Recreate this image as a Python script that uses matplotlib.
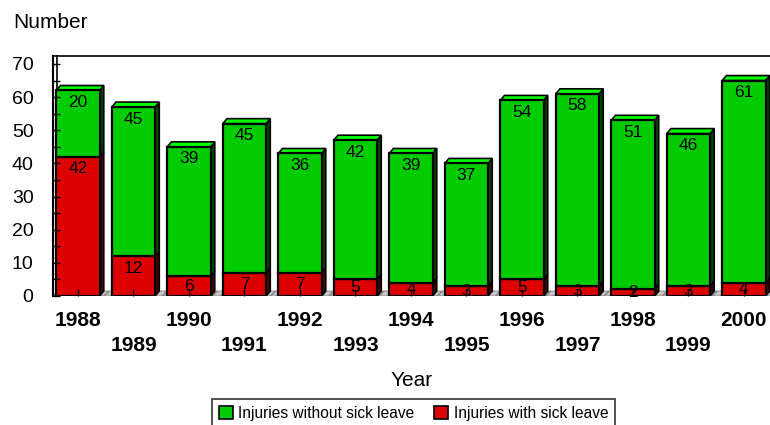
import matplotlib.pyplot as plt
from matplotlib.patches import Polygon, Rectangle

plt.rcParams['font.family'] = ['Liberation Sans', 'DejaVu Sans']

years = ['1988', '1989', '1990', '1991', '1992', '1993', '1994',
         '1995', '1996', '1997', '1998', '1999', '2000']
with_leave = [42, 12, 6, 7, 7, 5, 4, 3, 5, 3, 2, 3, 4]
without_leave = [20, 45, 39, 45, 36, 42, 39, 37, 54, 58, 51, 46, 61]

green = '#00cc00'
green_top = '#00ff00'
green_side = '#004400'
red = '#dd0000'
red_side = '#440000'

# 3D depth in data units
dx = 0.075
dy = 1.5
w = 0.78
ymax = 72.4
px = 240 / ymax  # pixels per unit on y

fig = plt.figure(figsize=(7.7, 4.25), dpi=100)
ax = fig.add_axes([53 / 770, 129 / 425, 717 / 770, 240 / 425])
ax.set_xlim(-0.45, 12.47)
ax.set_ylim(0, ymax)
ax.set_axisbelow(False)

# floor
floor = Polygon([(-0.45, 0), (12.6, 0), (12.6 + dx, dy), (-0.45 + dx, dy)],
                closed=True, facecolor='#c8c8c8', edgecolor='#808080',
                hatch='////', lw=0.6, zorder=0.5)
ax.add_patch(floor)
# back wall second line
ax.plot([-0.45 + dx, -0.45 + dx], [dy, ymax], color='black', lw=1.2,
        zorder=0.6, clip_on=False)


def segment(x, y0, h, face, side, top=None):
    l, r = x - w / 2, x + w / 2
    ax.add_patch(Polygon([(r, y0), (r + dx, y0 + dy), (r + dx, y0 + h + dy), (r, y0 + h)],
                         closed=True, facecolor=side, edgecolor='black', lw=1.2, zorder=2))
    ax.add_patch(Rectangle((l, y0), w, h, facecolor=face, edgecolor='black',
                           lw=1.6, zorder=2.2))
    if top is not None:
        t = y0 + h
        ax.add_patch(Polygon([(l, t), (l + dx, t + dy), (r + dx, t + dy), (r, t)],
                             closed=True, facecolor=top, edgecolor='black',
                             lw=1.2, zorder=2.1))


def label(x, y0, h, val):
    top = y0 + h
    yc = max(top - 12 / px, y0 + h / 2)
    ax.text(x, yc, str(val), ha='center', va='center', fontsize=12.5, zorder=3)


for i in range(len(years)):
    r = with_leave[i]
    g = without_leave[i]
    segment(i, 0, r, red, red_side)
    segment(i, r, g, green, green_side, top=green_top)
    label(i, 0, r, r)
    label(i, r, g, g)

ax.spines['right'].set_visible(False)
ax.spines['bottom'].set_visible(False)
ax.spines['left'].set_linewidth(1.5)
ax.spines['top'].set_linewidth(1.2)
ax.spines['left'].set_zorder(3)

ax.set_yticks(range(0, 71, 10))
ax.set_yticks(range(0, 71, 5), minor=True)
ax.tick_params(axis='y', which='both', direction='in', length=5, width=1,
               labelsize=14, pad=14)
ax.set_xticks(range(len(years)))
ax.set_xticklabels([y if i % 2 == 0 else '\n' + y for i, y in enumerate(years)],
                   fontsize=15, fontweight='bold', linespacing=1.4)
ax.tick_params(axis='x', direction='in', length=5, width=1, pad=11)
for t in ax.get_xticklabels():
    t.set_zorder(5)

fig.text(13 / 770, 1 - 23 / 425, 'Number', fontsize=15, ha='left', va='center')
fig.text(412 / 770, 1 - 380 / 425, 'Year', fontsize=15, ha='center', va='center')

handles = [Rectangle((0, 0), 1, 1, facecolor=green, edgecolor='black', lw=1.2),
           Rectangle((0, 0), 1, 1, facecolor=red, edgecolor='black', lw=1.2)]
leg = fig.legend(handles, ['Injuries without sick leave', 'Injuries with sick leave'],
                 loc='upper center', bbox_to_anchor=(413.5 / 770, 1 - 399 / 425),
                 ncol=2, fontsize=11.2, frameon=True, fancybox=False,
                 handlelength=0.9, handleheight=0.9, handletextpad=0.35,
                 columnspacing=1.3, borderpad=0.45, borderaxespad=0)
leg.get_frame().set_edgecolor('black')
leg.get_frame().set_linewidth(1.2)

fig.savefig('out.png', dpi=100)
